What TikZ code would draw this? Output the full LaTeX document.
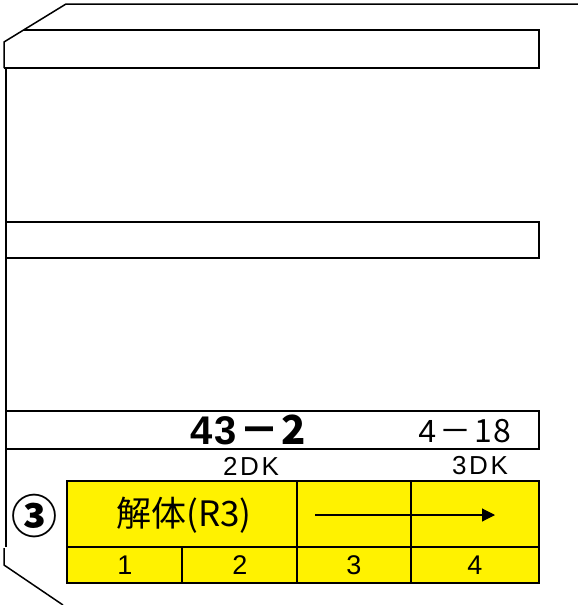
\documentclass[tikz,border=0pt]{standalone}
\usepackage{fontspec}
\setmainfont{Liberation Sans}
\newfontfamily\cjk{Noto Sans CJK JP}
\newfontfamily\spaced[LetterSpace=10]{Liberation Sans}
\usetikzlibrary{arrows.meta}
\begin{document}
\begin{tikzpicture}[x=1pt,y=-1pt,
  frame/.style={line width=1.5pt,draw=black},
  cell/.style={line width=1.5pt,draw=black,fill=yellow},
  lbl/.style={inner sep=0pt,anchor=center}]
\useasboundingbox (0,0) rectangle (578,605);
% outline
\draw[frame] (578,4) -- (66,4) -- (4,42) -- (4,68);
\draw[frame] (24,30) -- (539,30) -- (539,68) -- (4,68);
\draw[frame] (6,68) -- (6,547);
\draw[frame] (4,548) -- (4,565) -- (63,605);
% box 2
\draw[frame] (6,222) rectangle (539,258);
% box 3
\draw[frame] (6,411) rectangle (539,449);
\node[lbl] (num) at (248,430) {\fontsize{40}{40}\selectfont\bfseries 4\hspace{2pt}3\hspace{2pt}\cjk{\bfseries －}\hspace{2pt}2};
\node[lbl] (date) at (465,431) {\fontsize{32}{32}\selectfont 4\hspace{3pt}\cjk{－}\hspace{3pt}1\hspace{2pt}8};
\node[lbl] (dk2) at (251,466) {\fontsize{26}{26}\selectfont\spaced 2DK};
\node[lbl] (dk3) at (480,466) {\fontsize{26}{26}\selectfont\spaced 3DK};
% table
\draw[cell] (67,481) rectangle (539,583);
\draw[frame] (67,547) -- (539,547);
\draw[frame] (297,481) -- (297,583);
\draw[frame] (411,481) -- (411,583);
\draw[frame] (182,547) -- (182,583);
\node[lbl] (circ) at (34,516) {\fontsize{46}{46}\selectfont\cjk{\bfseries ③}};
\node[lbl] (kai) at (184,515) {\fontsize{35}{35}\selectfont\cjk{解体}(R3)};
\coordinate (as) at (315,515);
\coordinate (ae) at (495,515);
\draw[line width=1.1pt,-{Triangle[length=13pt,width=13pt]}] (as) -- (ae);
\node[lbl] (n1) at (125,565) {\fontsize{27}{27}\selectfont 1};
\node[lbl] (n2) at (240,565) {\fontsize{27}{27}\selectfont 2};
\node[lbl] (n3) at (354,565) {\fontsize{27}{27}\selectfont 3};
\node[lbl] (n4) at (475,565) {\fontsize{27}{27}\selectfont 4};
\end{tikzpicture}
\end{document}
